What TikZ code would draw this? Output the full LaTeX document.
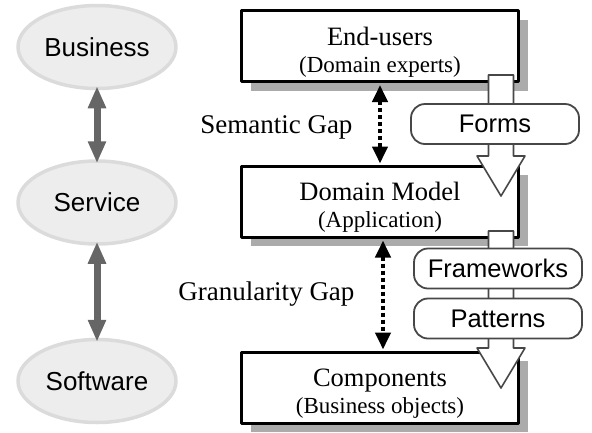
\documentclass[tikz,border=0pt]{standalone}
\usepackage{fontspec}
\setmainfont{Liberation Serif}
\newfontfamily\arialfont{Liberation Sans}
\usetikzlibrary{calc,arrows.meta,shapes.geometric,shadows}
\newcommand{\lowered}{\rule{0pt}{30pt}}

\begin{document}
\begin{tikzpicture}[x=1pt,y=-1pt,line join=round,
  level/.style={ellipse,draw=black!14,fill=black!7,line width=3.5pt,inner sep=0pt,
    minimum width=158pt,minimum height=83pt,font=\arialfont\fontsize{26}{30}\selectfont},
  layer/.style={draw,line width=3pt,fill=white,minimum width=277pt,minimum height=71pt,
    align=center,inner sep=0pt,font=\fontsize{26.5}{27}\selectfont,
    drop shadow={shadow xshift=9pt,shadow yshift=-9pt,fill=black!33,opacity=1}},
  tag/.style={draw=black!72,line width=1.8pt,fill=white,rounded corners=14pt,
    minimum width=168pt,minimum height=40pt,font=\arialfont\fontsize{25.5}{30}\selectfont},
  gaplabel/.style={font=\fontsize{27}{30}\selectfont},
  link/.style={draw=black!60,line width=7pt,shorten <=-4pt,shorten >=-4pt,
    {Triangle[width=17pt,length=22pt]}-{Triangle[width=17pt,length=22pt]}},
  gap/.style={draw,line width=4pt,dash pattern=on 4pt off 3pt,shorten <=2pt,shorten >=1pt,
    {Triangle[width=15pt,length=17pt]}-{Triangle[width=15pt,length=17pt]}},
  hollow/.style={draw=black!72,line width=1.6pt,fill=white}]
  \useasboundingbox (0,0) rectangle (592,432);

  \node[level] (business) at (97,47) {Business};
  \node[level] (service) at (97,202.5) {Service};
  \node[level] (software) at (97,381) {Software};
  \draw[link] (business) -- (service);
  \draw[link] (service) -- (software);

  \node[layer] (users) at (380,46) {\lowered End-users\\{\fontsize{23}{27}\selectfont (Domain experts)}};
  \node[layer] (model) at (380,201.5) {\lowered Domain Model\\{\fontsize{23}{27}\selectfont (Application)}};
  \node[layer] (parts) at (380,387.5) {\lowered Components\\{\fontsize{23}{27}\selectfont (Business objects)}};

  \draw[gap] (users) -- (model);
  \draw[gap] ($(model.south)+(3,0)$) -- ($(parts.north)+(3,0)$);
  \node[gaplabel,anchor=base east] (semantic) at (356,133) {Semantic Gap};
  \node[gaplabel,anchor=base east] (granular) at (358,300) {Granularity Gap};

  \coordinate (formstop) at (501,75);
  \coordinate (formstip) at (501,196);
  \coordinate (reusetop) at (501,231);
  \coordinate (reusetip) at (501,388);
  \foreach \s/\t in {formstop/formstip,reusetop/reusetip}
    \draw[hollow] ($(\s)+(-12.5,0)$) -- ($(\t)+(-12.5,-40)$) -- ($(\t)+(-24,-40)$) -- (\t)
      -- ($(\t)+(24,-40)$) -- ($(\t)+(12.5,-40)$) -- ($(\s)+(12.5,0)$) -- cycle;

  \node[tag] (forms) at (495,124) {Forms};
  \node[tag] (frameworks) at (498,268.5) {Frameworks};
  \node[tag] (patterns) at (498,318.5) {Patterns};
\end{tikzpicture}
\end{document}
